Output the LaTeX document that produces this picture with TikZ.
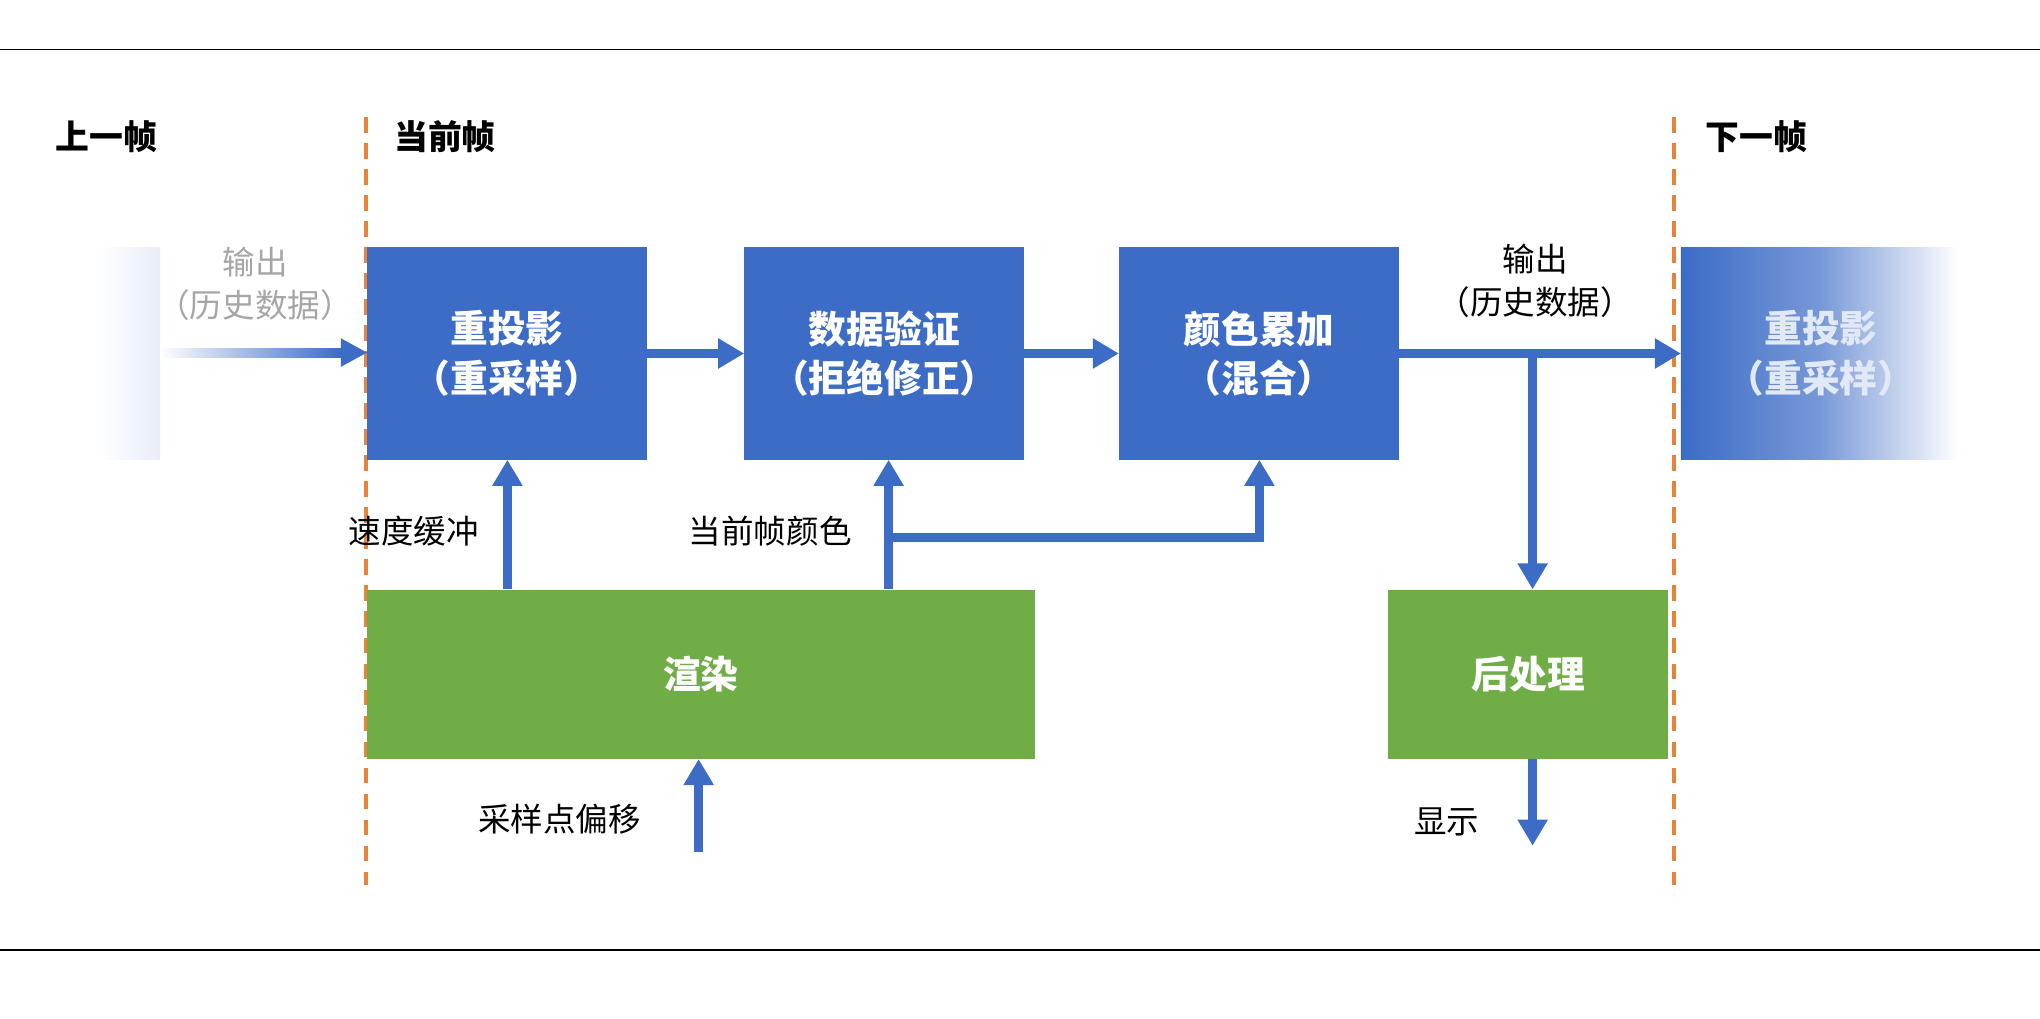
\documentclass[tikz,border=0pt]{standalone}
\usepackage{fontspec}
\setmainfont{Noto Sans CJK SC}
\usetikzlibrary{arrows.meta,positioning}
\definecolor{boxblue}{HTML}{3C6CC6}
\definecolor{boxgreen}{HTML}{70AD47}
\definecolor{lineorange}{HTML}{E8843A}
\tikzset{
  blk/.style={minimum width=215pt,minimum height=163pt,inner sep=0pt,text=white,
    font=\fontsize{29}{38}\selectfont\bfseries,align=center},
  stage/.style={blk,fill=boxblue},
  work/.style={blk,fill=boxgreen,minimum height=130pt},
  flow/.style={draw=boxblue,line width=7pt,-{Triangle[width=22pt,length=20pt]}},
  lbl/.style={font=\fontsize{25}{33}\selectfont,align=center},
  ttl/.style={font=\fontsize{26}{32}\selectfont\bfseries},
  sep/.style={draw=lineorange,line width=3pt,dash pattern=on 12pt off 8pt}
}
\begin{document}
\begin{tikzpicture}[x=1pt,y=-1pt]
	\useasboundingbox(0,0)rectangle(1568,783);
	\draw[line width=1.2pt](0,38)--(1568,38);
	\draw[line width=1.2pt](0,730)--(1568,730);
	\draw[sep](281,90)--(281,680);
	\draw[sep](1287,90)--(1287,680);
	\node[ttl](prev)at(82,105){上一帧};
	\node[ttl](cur)at(342,105){当前帧};
	\node[ttl](next)at(1350,105){下一帧};
	% faded boxes
	\shade[left color=white,right color=boxblue!12](75,190)rectangle(123,353);
	\coordinate(old)at(123,271);
	\shade[left color=boxblue,right color=white,middle color=boxblue!70](1292,190)rectangle(1505,353);
	\node[blk,anchor=north west,text=white!85!boxblue](nxt)at(1292,190){重投影\\（重采样）};
	% stages
	\node[stage,anchor=north west](reproj)at(282,190){重投影\\（重采样）};
	\node[stage,anchor=north west](valid)at(572,190){数据验证\\（拒绝修正）};
	\node[stage,anchor=north west](accum)at(860,190){颜色累加\\（混合）};
	\node[work,anchor=north west,minimum width=513pt](render)at(282,453){渲染};
	\node[work,anchor=north west](post)at(1067,453){后处理};
	% history input
	\shade[left color=white,right color=boxblue](old)++(0,-3.5)rectangle(262,274.5);
	\fill[boxblue](262,260)--(282,271)--(262,282)--cycle;
	\node[lbl,text=black!35](hin)at(196,218){输出\\（历史数据）};
	% main flow
	\draw[flow](reproj)--(valid);
	\draw[flow](valid)--(accum);
	\draw[flow](accum.east)--(nxt.west);
	\node[lbl](hout)at(1180,216){输出\\（历史数据）};
	\coordinate(split)at(1178,271);
	\draw[flow](split)--(post.north-|split);
	% inputs from render
	\draw[flow](render.north-|390,0)--(reproj.south-|390,0);
	\node[lbl](vel)at(318,408){速度缓冲};
	\coordinate(tap)at(683,413);
	\draw[flow](tap|-render.north)--(tap|-valid.south);
	\draw[flow](tap)-|(accum.south-|968,0);
	\node[lbl](col)at(592,408){当前帧颜色};
	\coordinate(jit)at(537,655);
	\draw[flow](jit)--(jit|-render.south);
	\node[lbl](jl)at(430,630){采样点偏移};
	\coordinate(disp)at(1178,650);
	\draw[flow](disp|-post.south)--(disp);
	\node[lbl](dl)at(1112,632){显示};
\end{tikzpicture}
\end{document}
